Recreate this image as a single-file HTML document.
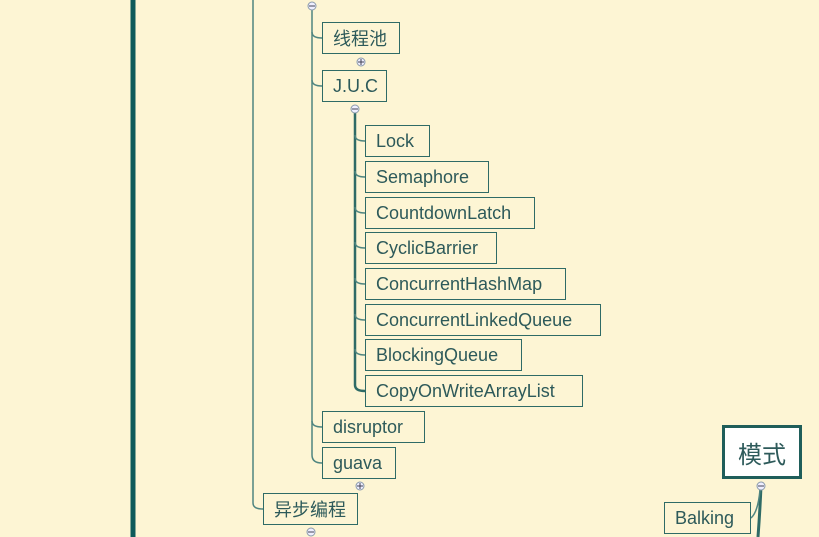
<!DOCTYPE html>
<html><head><meta charset="utf-8"><style>
body{margin:0;width:819px;height:537px;overflow:hidden;background:#fdf5d4;position:relative;font-family:"Liberation Sans","Noto Sans CJK SC",sans-serif}
.b{position:absolute;box-sizing:border-box;border:1.5px solid #2f6b66;background:#fdf5d4;color:#2d5a5a;font-size:18px;display:flex;align-items:center;justify-content:flex-start;padding-left:10px;white-space:nowrap}
svg{position:absolute;left:0;top:0}
</style></head><body>
<svg width="819" height="537">
<g fill="none" stroke="#4f8580" stroke-width="1.5">
<line x1="133" y1="0" x2="133" y2="537" stroke="#0e5a5a" stroke-width="5"/>
<path d="M253 0 V503 Q253 509 263 509"/>
<path d="M312 6 V455 Q312 463 322 463"/>
<path d="M312 32 Q312 38 322 38"/><path d="M312 80 Q312 86 322 86"/><path d="M312 421 Q312 427 322 427"/>
<path d="M355 110 V385 Q355 391 365 391" stroke-width="2.5" stroke="#2f6b66"/>
<path d="M355 135 Q355 141 365 141"/><path d="M355 171 Q355 177 365 177"/><path d="M355 207 Q355 213 365 213"/><path d="M355 242 Q355 248 365 248"/><path d="M355 278 Q355 284 365 284"/><path d="M355 314 Q355 320 365 320"/><path d="M355 349 Q355 355 365 355"/>
<path d="M761 486 Q760 510 758 537" stroke="#2f6b66" stroke-width="3"/>
<path d="M760 490 Q758 512 751 518"/>
</g>
<g fill="#eef" stroke="#8a9aaa" stroke-width="1">
<circle cx="312" cy="6" r="4"/><circle cx="361" cy="62" r="4"/><circle cx="355" cy="109" r="4"/><circle cx="360" cy="486" r="4"/><circle cx="311" cy="532" r="4"/><circle cx="761" cy="486" r="4"/>
</g>
<g stroke="#445" stroke-width="1"><line x1="309" y1="6" x2="315" y2="6"/><line x1="358" y1="62" x2="364" y2="62"/><line x1="361" y1="59" x2="361" y2="65"/><line x1="352" y1="109" x2="358" y2="109"/><line x1="357" y1="486" x2="363" y2="486"/><line x1="360" y1="483" x2="360" y2="489"/><line x1="308" y1="532" x2="314" y2="532"/><line x1="758" y1="486" x2="764" y2="486"/></g>
</svg>
<div class="b" style="left:322px;top:22px;width:78px;height:32px">线程池</div>
<div class="b" style="left:322px;top:70px;width:65px;height:32px">J.U.C</div>
<div class="b" style="left:365px;top:125px;width:65px;height:32px">Lock</div>
<div class="b" style="left:365px;top:161px;width:124px;height:32px">Semaphore</div>
<div class="b" style="left:365px;top:197px;width:170px;height:32px">CountdownLatch</div>
<div class="b" style="left:365px;top:232px;width:132px;height:32px">CyclicBarrier</div>
<div class="b" style="left:365px;top:268px;width:201px;height:32px">ConcurrentHashMap</div>
<div class="b" style="left:365px;top:304px;width:236px;height:32px">ConcurrentLinkedQueue</div>
<div class="b" style="left:365px;top:339px;width:157px;height:32px">BlockingQueue</div>
<div class="b" style="left:365px;top:375px;width:218px;height:32px">CopyOnWriteArrayList</div>
<div class="b" style="left:322px;top:411px;width:103px;height:32px">disruptor</div>
<div class="b" style="left:322px;top:447px;width:74px;height:32px">guava</div>
<div class="b" style="left:263px;top:493px;width:95px;height:32px">异步编程</div>
<div class="b" style="left:722px;top:425px;width:80px;height:54px;background:#fff;border:3px solid #1f5e5a;font-size:24px;justify-content:center;padding-left:0">模式</div>
<div class="b" style="left:664px;top:502px;width:87px;height:32px">Balking</div>
</body></html>
